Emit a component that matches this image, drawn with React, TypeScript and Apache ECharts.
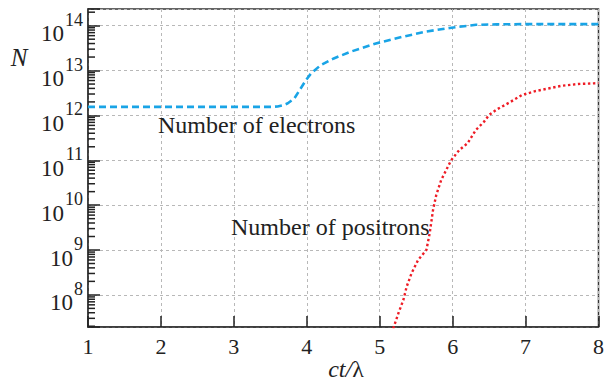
import React, { useEffect, useRef } from 'react';
import * as echarts from 'echarts';

// x axis: ct/λ
const xMin = 1;
const xMax = 8;
// y axis range as exponents of ten (log axis)
const yMinExp = 7.284;
const yMaxExp = 14.372;
// y tick labels: 10^exponent
const yTickExps = [8, 9, 10, 11, 12, 13, 14];

// Number of electrons: time and log10(N)
const electronT = [1, 2, 3, 3.5, 3.6, 3.68, 3.74, 3.83, 3.9, 3.99, 4.06, 4.19, 4.37, 4.6, 4.96, 5.32, 5.64, 5.96, 6.32, 6.6, 7, 7.5, 8];
const electronLogN = [12.19, 12.19, 12.19, 12.19, 12.2, 12.23, 12.27, 12.38, 12.56, 12.79, 12.94, 13.12, 13.27, 13.42, 13.61, 13.755, 13.87, 13.95, 14.02, 14.03, 14.035, 14.035, 14.035];

// Number of positrons: time and log10(N)
const positronT = [5.185, 5.256, 5.324, 5.369, 5.436, 5.527, 5.64, 5.685, 5.731, 5.776, 5.843, 5.911, 5.979, 6.092, 6.205, 6.318, 6.431, 6.499, 6.613, 6.77, 6.952, 7.132, 7.313, 7.494, 7.72, 7.946, 8.0];
const positronLogN = [7.25, 7.59, 7.885, 8.18, 8.48, 8.78, 9.0, 9.37, 9.89, 10.23, 10.56, 10.78, 11.0, 11.23, 11.38, 11.675, 11.86, 12.01, 12.14, 12.28, 12.455, 12.54, 12.6, 12.66, 12.7, 12.716, 12.72];

const electronLabel = 'Number of electrons';
const positronLabel = 'Number of positrons';
const xNameItalic = 'ct/';
const xNameUpright = 'λ';
const yName = 'N';

const FONT = '"Liberation Serif", "Times New Roman", serif';
const INK = '#222';

export default function App() {
  const ref = useRef<HTMLDivElement>(null);

  useEffect(() => {
    if (!ref.current) return;
    const chart = echarts.init(ref.current, null, { renderer: 'svg' });

    const yMin = Math.pow(10, yMinExp);
    const yMax = Math.pow(10, yMaxExp);
    const minorTicks: number[][] = [];
    for (let d = 7; d <= 14; d++) {
      for (let k = 2; k <= 9; k++) {
        const v = k * Math.pow(10, d);
        if (v >= yMin && v <= yMax) minorTicks.push([xMin, v]);
      }
    }

    const electrons = electronT.map((t, i) => [t, Math.pow(10, electronLogN[i])]);
    const positrons = positronT.map((t, i) => [t, Math.pow(10, positronLogN[i])]);

    chart.setOption({
      animation: false,
      grid: {
        left: 88,
        right: 3,
        top: 9,
        bottom: 56,
        show: true,
        borderColor: '#333',
        borderWidth: 1.5,
      },
      xAxis: {
        type: 'value',
        min: xMin,
        max: xMax,
        interval: 1,
        axisLine: { lineStyle: { color: '#333', width: 1.5 } },
        axisTick: { inside: true, length: 11, lineStyle: { color: INK, width: 1.5 } },
        axisLabel: { fontFamily: FONT, fontSize: 22, color: INK, margin: 8 },
        splitLine: { show: true, lineStyle: { color: '#b8b8b8', type: [3, 3], width: 1 } },
      },
      yAxis: {
        type: 'log',
        logBase: 10,
        min: yMin,
        max: yMax,
        axisLine: { show: true, lineStyle: { color: '#333', width: 1.5 } },
        axisTick: { show: true, inside: true, length: 12, lineStyle: { color: INK, width: 1.5 } },
        axisLabel: { show: false },
        splitLine: { show: true, lineStyle: { color: '#b8b8b8', type: [3, 3], width: 1 } },
      },
      series: [
        {
          type: 'line',
          data: electrons,
          symbol: 'none',
          lineStyle: { color: '#19a4e6', width: 2.6, type: [7, 4] },
          z: 3,
        },
        {
          type: 'line',
          data: positrons,
          symbol: 'none',
          lineStyle: { color: '#ee1c25', width: 2.4, type: [2.4, 2.6] },
          z: 3,
        },
        {
          type: 'custom',
          silent: true,
          data: minorTicks,
          renderItem: (_params: any, api: any) => {
            const p = api.coord([api.value(0), api.value(1)]);
            return {
              type: 'line',
              shape: { x1: p[0], y1: p[1], x2: p[0] + 7, y2: p[1] },
              style: { stroke: INK, lineWidth: 1.5 },
            };
          },
          z: 4,
        },
      ],
    });

    // y tick labels 10^n placed at the axis' own tick positions
    const labelRight = 83;
    const supDigit = 9;
    const tickLabels: any[] = [];
    yTickExps.forEach((e) => {
      const y = chart.convertToPixel({ yAxisIndex: 0 }, Math.pow(10, e)) as number;
      const s = String(e);
      tickLabels.push({
        type: 'text',
        x: labelRight - s.length * supDigit - 1,
        y: y + 8,
        style: { text: '10', font: `23px ${FONT}`, fill: INK, align: 'right', verticalAlign: 'middle' },
      });
      tickLabels.push({
        type: 'text',
        x: labelRight,
        y: y - 6,
        style: { text: s, font: `18px ${FONT}`, fill: INK, align: 'right', verticalAlign: 'middle' },
      });
    });

    chart.setOption({
      graphic: [
        {
          type: 'text',
          x: 19,
          y: 57,
          style: { text: yName, font: `italic 25px ${FONT}`, fill: INK, align: 'center', verticalAlign: 'middle' },
        },
        {
          type: 'text',
          x: 346,
          y: 369,
          style: {
            text: `{i|${xNameItalic}}{n|${xNameUpright}}`,
            align: 'center',
            verticalAlign: 'middle',
            rich: {
              i: { fontFamily: FONT, fontStyle: 'italic', fontSize: 24, fill: INK },
              n: { fontFamily: FONT, fontSize: 24, fill: INK },
            },
          },
        },
        {
          type: 'text',
          x: 158,
          y: 125,
          style: { text: electronLabel, font: `24px ${FONT}`, fill: INK, align: 'left', verticalAlign: 'middle' },
        },
        {
          type: 'text',
          x: 231,
          y: 227,
          style: { text: positronLabel, font: `24px ${FONT}`, fill: INK, align: 'left', verticalAlign: 'middle' },
        },
        ...tickLabels,
      ],
    });

    return () => chart.dispose();
  }, []);

  return (
    <div
      ref={ref}
      style={{ position: 'fixed', left: 0, top: 0, width: 607, height: 383, background: '#fff' }}
    />
  );
}
